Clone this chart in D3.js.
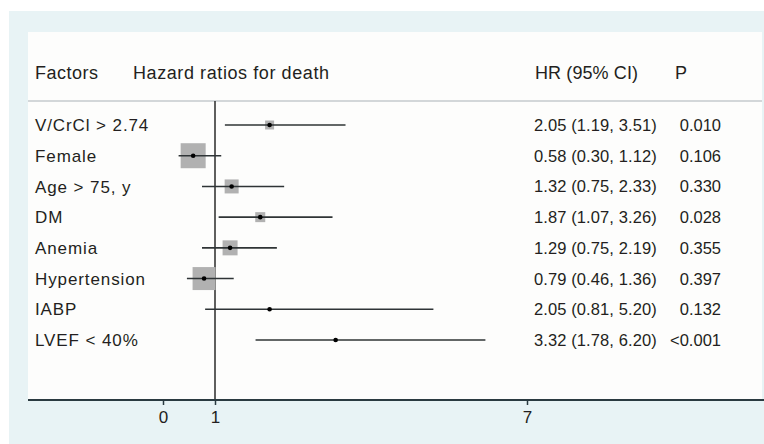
<!DOCTYPE html>
<html>
<head>
<meta charset="utf-8">
<script src="https://cdn.jsdelivr.net/npm/d3@7"></script>
<style>
	body { margin: 0; background: #ffffff; }
	text { font-family: "Liberation Sans", Arial, sans-serif; fill: #231f20; }
</style>
</head>
<body>
<div id="chart"></div>
<script>
// forest plot data
var factors = ["V/CrCl > 2.74", "Female", "Age > 75, y", "DM", "Anemia", "Hypertension", "IABP", "LVEF < 40%"];
var hr = [2.05, 0.58, 1.32, 1.87, 1.29, 0.79, 2.05, 3.32];
var lower = [1.19, 0.30, 0.75, 1.07, 0.75, 0.46, 0.81, 1.78];
var upper = [3.51, 1.12, 2.33, 3.26, 2.19, 1.36, 5.20, 6.20];
var pValues = ["0.010", "0.106", "0.330", "0.028", "0.355", "0.397", "0.132", "<0.001"];
var weights = [9, 25, 14, 10, 15, 23, 1, 1];
var xTicks = [0, 1, 7];

var rows = factors.map(function(f, i) {
	return { name: f, hr: hr[i], lo: lower[i], hi: upper[i], p: pValues[i], w: weights[i] };
});

var width = 764,
	height = 444;

var svg = d3.select( "#chart" ).append( "svg" )
	.attr( "width", width )
	.attr( "height", height );

// backgrounds
svg.append( "rect" )
	.attr( "x", 9 ).attr( "y", 11 )
	.attr( "width", width - 9 ).attr( "height", height - 11 )
	.attr( "fill", "#e8f3f5" );

svg.append( "rect" )
	.attr( "x", 28 ).attr( "y", 32 )
	.attr( "width", 734 ).attr( "height", 368 )
	.attr( "fill", "#fdfdfc" );

svg.append( "line" )
	.attr( "x1", 28 ).attr( "x2", 762 )
	.attr( "y1", 101 ).attr( "y2", 101 )
	.attr( "stroke", "#d3d7d9" )
	.attr( "stroke-width", 2 );

var x = d3.scaleLinear()
	.domain( [0, 7] )
	.range( [163, 527] );

var y = d3.scalePoint()
	.domain( factors )
	.range( [125, 340] );

var box = d3.scaleLinear()
	.domain( [0, 25] )
	.range( [0, 25] );

// header
var header = svg.append( "g" ).attr( "class", "header" )
	.style( "font-size", "18px" );
header.append( "text" ).attr( "x", 35 ).attr( "y", 79 ).text( "Factors" ).attr( "textLength", 63 );
header.append( "text" ).attr( "x", 133 ).attr( "y", 79 ).text( "Hazard ratios for death" ).attr( "textLength", 196 );
header.append( "text" ).attr( "x", 535 ).attr( "y", 79 ).text( "HR (95% CI)" ).attr( "textLength", 103 );
header.append( "text" ).attr( "x", 675 ).attr( "y", 79 ).text( "P" );

// reference line at HR = 1
svg.append( "line" )
	.attr( "x1", x(1) ).attr( "x2", x(1) )
	.attr( "y1", 101 ).attr( "y2", 400 )
	.attr( "stroke", "#2a2a2a" )
	.attr( "stroke-width", 1.5 );

var row = svg.selectAll( "g.row" )
	.data( rows )
	.enter()
	.append( "g" )
	.attr( "class", "row" )
	.attr( "transform", function(d) { return "translate(0," + y(d.name) + ")"; } );

row.append( "rect" )
	.attr( "x", function(d) { return x(d.hr) - box(d.w) / 2; } )
	.attr( "y", function(d) { return -box(d.w) / 2; } )
	.attr( "width", function(d) { return box(d.w); } )
	.attr( "height", function(d) { return box(d.w); } )
	.attr( "fill", "#b1b1b1" );

row.append( "line" )
	.attr( "x1", function(d) { return x(d.lo); } )
	.attr( "x2", function(d) { return x(d.hi); } )
	.attr( "stroke", "#2f3436" )
	.attr( "stroke-width", 1.6 );

row.append( "circle" )
	.attr( "cx", function(d) { return x(d.hr); } )
	.attr( "r", 2.3 )
	.attr( "fill", "#000" );

row.append( "text" )
	.attr( "x", 35 ).attr( "dy", "0.36em" )
	.style( "font-size", "17px" )
	.style( "letter-spacing", "0.9px" )
	.text( function(d) { return d.name; } );

row.append( "text" )
	.attr( "x", 534 ).attr( "dy", "0.36em" )
	.style( "font-size", "16.5px" )
	.style( "letter-spacing", "0.1px" )
	.text( function(d) { return d.hr.toFixed(2) + " (" + d.lo.toFixed(2) + ", " + d.hi.toFixed(2) + ")"; } );

row.append( "text" )
	.attr( "x", 721 ).attr( "dy", "0.36em" )
	.attr( "text-anchor", "end" )
	.style( "font-size", "16.5px" )
	.text( function(d) { return d.p; } );

// axis
var axis = svg.append( "g" )
	.attr( "transform", "translate(0,400)" )
	.call( d3.axisBottom( x ).tickValues( xTicks ).tickSize( 5 ).tickFormat( d3.format( "d" ) ) );

axis.select( ".domain" ).remove();
axis.selectAll( ".tick line" ).attr( "stroke", "#2a3a40" ).attr( "stroke-width", 1.5 );
axis.selectAll( ".tick text" )
	.attr( "y", 11 )
	.style( "font-size", "17px" )
	.style( "font-family", "'Liberation Sans', Arial, sans-serif" )
	.attr( "fill", "#231f20" );

svg.append( "line" )
	.attr( "x1", 28 ).attr( "x2", width )
	.attr( "y1", 400 ).attr( "y2", 400 )
	.attr( "stroke", "#2a3a40" )
	.attr( "stroke-width", 2 );
</script>
</body>
</html>
